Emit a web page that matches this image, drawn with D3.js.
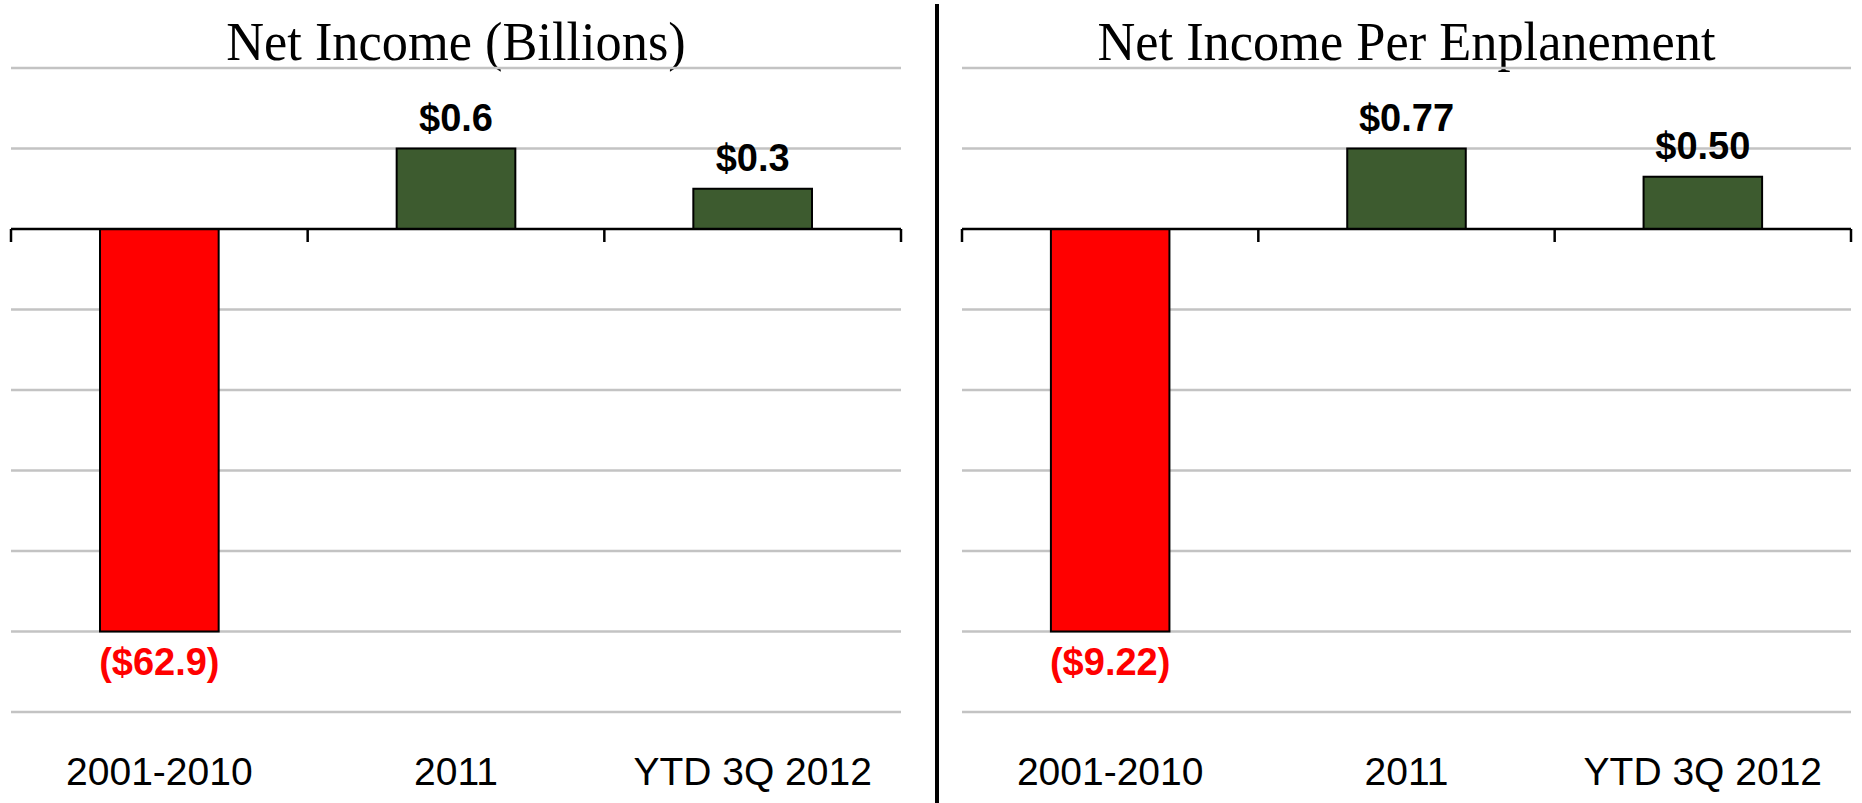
<!DOCTYPE html>
<html>
<head>
<meta charset="utf-8">
<script src="https://cdn.jsdelivr.net/npm/d3@7"></script>
<style>
  html, body { margin: 0; padding: 0; background: #fff; }
  svg { display: block; }
</style>
</head>
<body>
<svg id="chart" width="1862" height="803"></svg>
<script>
// ---- data ----
const categories = ["2001-2010", "2011", "YTD 3Q 2012"];
const netIncomeBillions = [-62.9, 0.6, 0.3];
const netIncomePerEnplanement = [-9.22, 0.77, 0.50];
const panelTitles = ["Net Income (Billions)", "Net Income Per Enplanement"];
const labelDecimals = [1, 2];
const gridUnits = [2, 1, -1, -2, -3, -4, -5, -6];

// ---- layout ----
const W = 1862, H = 803;
const svg = d3.select("#chart");
const panels = [
  { x0: 11, x1: 901, title: panelTitles[0], values: netIncomeBillions, dec: labelDecimals[0] },
  { x0: 962, x1: 1851, title: panelTitles[1], values: netIncomePerEnplanement, dec: labelDecimals[1] }
];

// grid units scale (shared vertical layout)
const gy = d3.scaleLinear().domain([-6, 2]).range([712, 68]);

const fmt = (v, dec) => v < 0 ? `($${Math.abs(v).toFixed(dec)})` : `$${v.toFixed(dec)}`;

panels.forEach(p => {
  const g = svg.append("g");
  const x = d3.scaleBand().domain(categories).range([p.x0, p.x1])
    .paddingInner(0.6).paddingOuter(0.3);
  // broken-style value scale: negatives compressed, positives expanded
  const vmin = d3.min(p.values), vmax = d3.max(p.values);
  const y = d3.scaleLinear().domain([vmin, 0, vmax]).range([gy(-5), gy(0), gy(1)]);

  // title (slightly condensed serif)
  const cx = (p.x0 + p.x1) / 2;
  g.append("text")
    .attr("transform", `translate(${cx},60) scale(0.97,1)`)
    .attr("text-anchor", "middle")
    .style("font-family", "'Liberation Serif', 'Times New Roman', serif")
    .style("font-size", "54px")
    .attr("fill", "#000")
    .text(p.title);

  // gridlines
  g.selectAll("line.grid").data(gridUnits).join("line")
    .attr("class", "grid")
    .attr("x1", p.x0).attr("x2", p.x1)
    .attr("y1", d => gy(d)).attr("y2", d => gy(d))
    .attr("stroke", "#c3c3c3").attr("stroke-width", 2.5);

  // bars
  g.selectAll("rect.bar").data(p.values).join("rect")
    .attr("class", "bar")
    .attr("x", (d, i) => x(categories[i]))
    .attr("width", x.bandwidth())
    .attr("y", d => Math.min(y(d), y(0)))
    .attr("height", d => Math.abs(y(d) - y(0)))
    .attr("fill", d => d < 0 ? "#ff0000" : "#3d5b2f")
    .attr("stroke", "#000").attr("stroke-width", 2);

  // zero axis line
  g.append("line")
    .attr("x1", p.x0).attr("x2", p.x1)
    .attr("y1", y(0)).attr("y2", y(0))
    .attr("stroke", "#000").attr("stroke-width", 2.5);

  // tick marks at category boundaries
  const bw = (p.x1 - p.x0) / categories.length;
  const bounds = d3.range(categories.length + 1).map(i => p.x0 + i * bw);
  g.selectAll("line.tick").data(bounds).join("line")
    .attr("class", "tick")
    .attr("x1", d => d).attr("x2", d => d)
    .attr("y1", y(0)).attr("y2", y(0) + 13)
    .attr("stroke", "#000").attr("stroke-width", 2.5);

  // value labels
  g.selectAll("text.val").data(p.values).join("text")
    .attr("class", "val")
    .attr("x", (d, i) => x(categories[i]) + x.bandwidth() / 2)
    .attr("y", d => d < 0 ? y(d) + 43 : y(d) - 18)
    .attr("text-anchor", "middle")
    .style("font-family", "'Liberation Sans', Arial, sans-serif")
    .style("font-weight", "bold")
    .style("font-size", "38px")
    .attr("fill", d => d < 0 ? "#ff0000" : "#000")
    .text(d => fmt(d, p.dec));

  // category labels
  g.selectAll("text.cat").data(categories).join("text")
    .attr("class", "cat")
    .attr("x", d => x(d) + x.bandwidth() / 2)
    .attr("y", 785)
    .attr("text-anchor", "middle")
    .style("font-family", "'Liberation Sans', Arial, sans-serif")
    .style("font-size", "39px")
    .attr("fill", "#000")
    .text(d => d);
});

// vertical divider between panels
svg.append("line")
  .attr("x1", 937).attr("x2", 937)
  .attr("y1", 4).attr("y2", H)
  .attr("stroke", "#000").attr("stroke-width", 4);
</script>
</body>
</html>
